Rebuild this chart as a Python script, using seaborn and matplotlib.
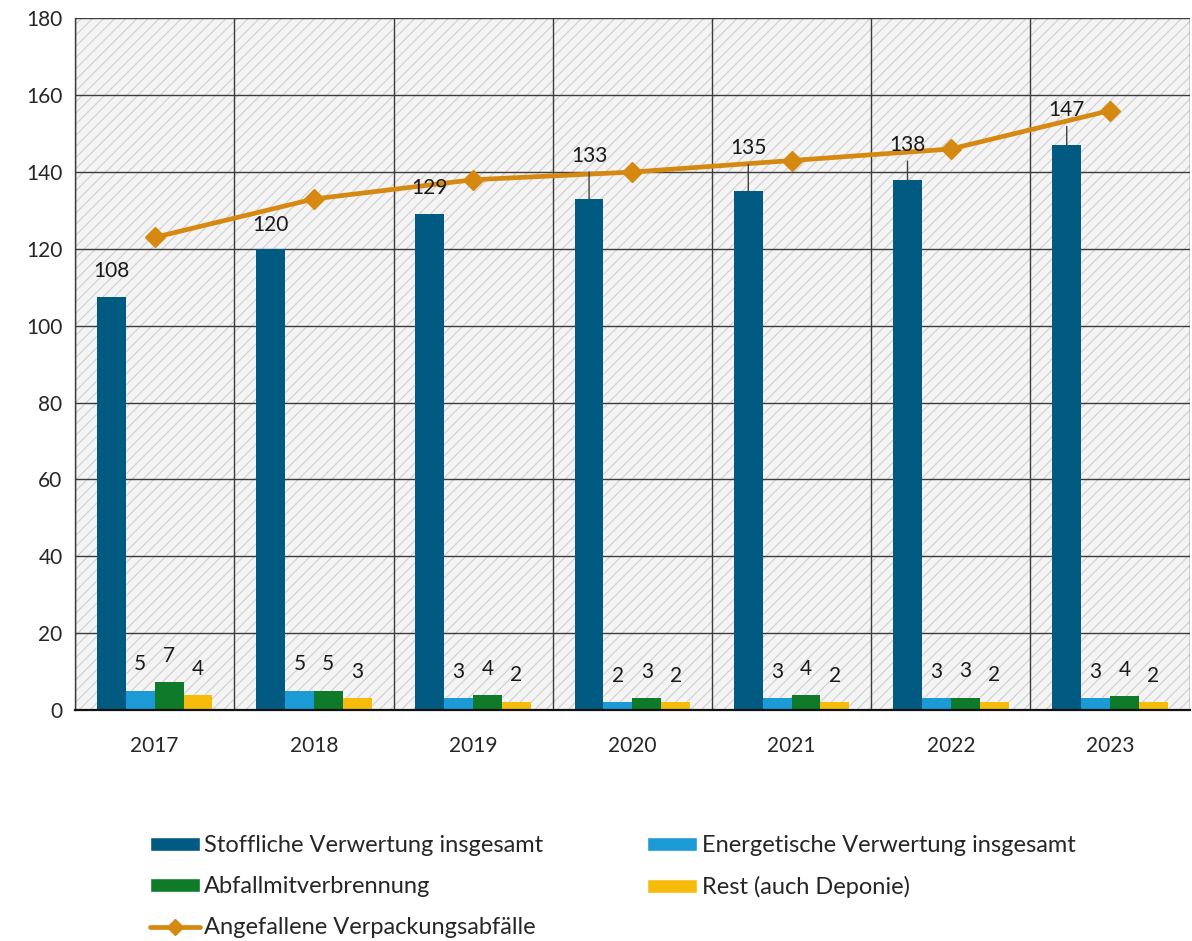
import numpy as np
import pandas as pd
import matplotlib
matplotlib.use("Agg")
import matplotlib.pyplot as plt
import seaborn as sns
from matplotlib.patches import Rectangle, Patch
from matplotlib.lines import Line2D

# -------------------------------
# Data
# -------------------------------
years = ["2017", "2018", "2019", "2020", "2021", "2022", "2023"]
stofflich = [107.5, 120, 129, 133, 135, 138, 147]
energetisch = [5, 5, 3, 2, 3, 3, 3]
mitverbrennung = [7.2, 5, 3.8, 3, 3.8, 3.2, 3.6]
rest = [3.8, 3, 2.2, 2, 2, 2.2, 2.1]
angefallen = [123, 133, 138, 140, 143, 146, 156]

label_stoff = ["108", "120", "129", "133", "135", "138", "147"]
label_energ = ["5", "5", "3", "2", "3", "3", "3"]
label_mitv = ["7", "5", "4", "3", "4", "3", "4"]
label_rest = ["4", "3", "2", "2", "2", "2", "2"]
# text offset above the bar (points); bigger ones get a leader line
offset_stoff = [19, 17, 19, 31, 31, 25, 25]

series = ["Stoffliche Verwertung insgesamt", "Energetische Verwertung insgesamt",
          "Abfallmitverbrennung", "Rest (auch Deponie)"]
line_name = "Angefallene Verpackungsabfälle"
colors = ["#005a82", "#1b9ad6", "#0f7a2a", "#f7bb0a"]
line_color = "#d68910"

df = pd.DataFrame({
    "Jahr": years * 4,
    "Serie": np.repeat(series, len(years)),
    "Wert": stofflich + energetisch + mitverbrennung + rest,
})

# -------------------------------
# Plot
# -------------------------------
sns.set_style("white")
plt.rcParams["font.family"] = ["Lato", "DejaVu Sans"]
plt.rcParams["hatch.linewidth"] = 0.8
plt.rcParams["hatch.color"] = "#cfcfcf"

fig = plt.figure(figsize=(11.92, 9.41), dpi=100)
ax = fig.add_axes([0.063, 0.2455, 0.935, 0.735])

ax.set_facecolor("#f4f4f4")
ax.add_patch(Rectangle((0, 0), 1, 1, transform=ax.transAxes, facecolor="none",
                       edgecolor="#cfcfcf", hatch="///", lw=0, zorder=0))

sns.barplot(data=df, x="Jahr", y="Wert", hue="Serie", hue_order=series,
            palette=colors, width=0.725, saturation=1, legend=False,
            edgecolor="none", ax=ax, zorder=3)

ax.plot(range(len(years)), angefallen, color=line_color, lw=3.4, marker="D",
        markersize=10, zorder=5)

# bar labels
for cont, labs in zip(ax.containers, [label_stoff, label_energ, label_mitv, label_rest]):
    for i, (bar, lab) in enumerate(zip(cont, labs)):
        xc = bar.get_x() + bar.get_width() / 2
        h = bar.get_height()
        off = offset_stoff[i] if cont is ax.containers[0] else 19
        arrow = None
        if off > 20:
            arrow = dict(arrowstyle="-", color="#404040", lw=1, shrinkA=2, shrinkB=0)
        ax.annotate(lab, (xc, h), xytext=(0, off), textcoords="offset points",
                    ha="center", va="center", fontsize=15, color="#1a1a1a",
                    arrowprops=arrow, zorder=6)

# grid & axes
ax.set_ylim(0, 180)
ax.set_xlim(-0.5, len(years) - 0.5)
ax.set_yticks(np.arange(0, 181, 20))
ax.set_xticks(np.arange(len(years)))
ax.set_xticks(np.arange(len(years) + 1) - 0.5, minor=True)
for yv in np.arange(20, 181, 20):
    ax.axhline(yv, color="#3c3c3c", lw=1, zorder=1)
for xv in np.arange(len(years) + 1) - 0.5:
    ax.axvline(xv, color="#3c3c3c", lw=1, zorder=1)

for s in ["top", "right"]:
    ax.spines[s].set_visible(False)
ax.spines["left"].set_color("#3c3c3c")
ax.spines["left"].set_linewidth(1)
ax.spines["bottom"].set_color("#111111")
ax.spines["bottom"].set_linewidth(1.6)
ax.spines["bottom"].set_zorder(7)

ax.tick_params(axis="x", which="major", length=0, pad=19, labelsize=15)
ax.tick_params(axis="x", which="minor", length=7, width=1.4, color="#111111", direction="out")
ax.tick_params(axis="y", length=0, pad=9, labelsize=15)
ax.set_xlabel("")
ax.set_ylabel("")

# legend
handles = [
    Patch(facecolor=colors[0], label=series[0]),
    Patch(facecolor=colors[2], label=series[2]),
    Line2D([0], [0], color=line_color, lw=3.4, marker="D", markersize=8, label=line_name),
    Patch(facecolor=colors[1], label=series[1]),
    Patch(facecolor=colors[3], label=series[3]),
]
fig.legend(handles=handles, ncol=2, loc="upper left", bbox_to_anchor=(0.116, 0.125),
           frameon=False, fontsize=17, handlelength=2.1, handleheight=0.5,
           handletextpad=0.2, labelspacing=0.85, columnspacing=4.4, borderpad=0)

fig.savefig("out.png", dpi=100)
